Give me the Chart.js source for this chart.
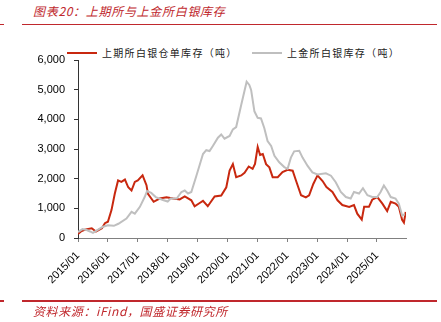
<!DOCTYPE html>
<html>
<head>
<meta charset="utf-8">
<script src="https://cdn.jsdelivr.net/npm/chart.js@4/dist/chart.umd.min.js"></script>
<style>
  body { margin:0; background:#fff; width:441px; height:322px; position:relative; overflow:hidden;
         font-family:"Noto Sans CJK SC", sans-serif; }
  .title { position:absolute; left:33px; top:2px; font-size:12px; font-style:italic; color:#C0282D; letter-spacing:0.7px; }
  .rule { position:absolute; height:1.5px; background:#C0282D; }
  .src { position:absolute; left:33px; top:302px; font-size:12px; font-style:italic; color:#C0282D; letter-spacing:0.6px; }
  .legend { position:absolute; top:45px; font-size:10px; letter-spacing:1.3px; color:#222; white-space:nowrap; }
  .legend i { display:inline-block; width:30px; height:2px; vertical-align:middle; margin-right:5px; margin-top:-2px; }
  #wrap { position:absolute; left:0; top:0; width:441px; height:322px; }
</style>
</head>
<body>
<div class="title">图表20：上期所与上金所白银库存</div>
<div class="rule" style="left:0;width:4px;top:23.5px"></div>
<div class="rule" style="left:22px;width:415px;top:23.5px"></div>
<div class="legend" style="left:67px"><i style="background:#C8280F"></i>上期所白银仓单库存（吨）</div>
<div class="legend" style="left:252px"><i style="background:#BFBFBF"></i>上金所白银库存（吨）</div>
<div id="wrap"><canvas id="c"></canvas></div>
<div class="rule" style="left:0;width:4px;top:300px"></div>
<div class="rule" style="left:22px;width:415px;top:300px"></div>
<div class="src">资料来源：iFind，国盛证券研究所</div>
<script>
// 上期所白银仓单库存（吨）
const shfeT = [2015.00,2015.10,2015.20,2015.30,2015.46,2015.60,2015.80,2015.90,2016.00,2016.12,2016.23,2016.34,2016.45,2016.57,2016.68,2016.79,2016.90,2017.00,2017.16,2017.29,2017.34,2017.53,2017.73,2017.96,2018.18,2018.40,2018.57,2018.79,2018.90,2019.07,2019.18,2019.34,2019.57,2019.79,2019.96,2020.07,2020.18,2020.29,2020.46,2020.57,2020.71,2020.84,2020.92,2021.01,2021.09,2021.18,2021.29,2021.40,2021.51,2021.68,2021.84,2022.01,2022.18,2022.29,2022.46,2022.62,2022.73,2022.87,2023.01,2023.18,2023.31,2023.51,2023.68,2023.84,2024.07,2024.23,2024.34,2024.49,2024.57,2024.73,2024.84,2025.01,2025.18,2025.34,2025.46,2025.62,2025.73,2025.84,2025.90,2025.96];
const shfeV = [140,220,270,300,330,220,330,500,550,940,1490,1940,1890,1970,1710,1600,1890,1940,2110,1780,1490,1220,1330,1370,1330,1300,1400,1270,1070,1180,1250,1070,1400,1430,1710,2270,2490,2050,2110,2200,2410,2330,2500,3070,2800,2830,2490,2380,2050,2050,2220,2300,2270,1940,1440,1370,1440,1820,2110,1920,1720,1550,1270,1110,1050,1110,820,620,1050,1050,1290,1380,1160,910,1220,1160,1050,610,520,880];

// 上金所白银库存（吨）
const sgeT = [2015.00,2015.15,2015.29,2015.40,2015.50,2015.70,2015.84,2016.00,2016.20,2016.35,2016.62,2016.79,2016.90,2017.07,2017.23,2017.31,2017.45,2017.60,2017.84,2018.00,2018.10,2018.30,2018.46,2018.57,2018.68,2018.79,2018.96,2019.18,2019.29,2019.40,2019.51,2019.68,2019.79,2019.90,2020.07,2020.18,2020.29,2020.46,2020.64,2020.73,2020.79,2020.90,2021.01,2021.12,2021.23,2021.34,2021.46,2021.57,2021.73,2021.90,2022.01,2022.12,2022.23,2022.40,2022.51,2022.68,2022.84,2023.01,2023.29,2023.46,2023.62,2023.79,2023.96,2024.12,2024.23,2024.40,2024.53,2024.68,2024.84,2025.01,2025.12,2025.23,2025.34,2025.46,2025.62,2025.73,2025.84,2025.93];
const sgeV = [200,300,270,220,170,300,380,430,410,480,655,880,820,1050,1380,1580,1520,1380,1280,1230,1330,1330,1550,1600,1500,1550,2100,2830,2960,2930,3100,3380,3490,3350,3440,3660,3740,4490,5270,5160,4990,4270,4050,4030,3710,3270,3100,2770,2550,2390,2330,2710,2920,2940,2710,2430,2210,2140,2180,2100,1880,1550,1380,1330,1550,1500,1680,1440,1380,1380,1550,1770,1600,1380,1330,1160,760,800];

const yearTicks = [2015,2016,2017,2018,2019,2020,2021,2022,2023,2024,2025];
const yTicks = [0,1000,2000,3000,4000,5000,6000];

const pts = (t, v) => t.map((x, i) => ({ x, y: v[i] }));

new Chart(document.getElementById('c'), {
  type: 'line',
  data: {
    datasets: [
      { label:'上金所白银库存（吨）', data: pts(sgeT, sgeV), borderColor:'#BFBFBF', borderWidth:2, pointRadius:0, tension:0 },
      { label:'上期所白银仓单库存（吨）', data: pts(shfeT, shfeV), borderColor:'#C8280F', borderWidth:2, pointRadius:0, tension:0 }
    ]
  },
  options: {
    responsive: true,
    maintainAspectRatio: false,
    animation: false,
    layout: { padding: { top:60, right:35, left:0, bottom:0 } },
    plugins: { legend:{ display:false }, tooltip:{ enabled:false } },
    scales: {
      x: {
        type: 'linear', min: 2015, max: 2025.97,
        afterFit: s => { s.height = 84; },
        afterBuildTicks: s => { s.ticks = yearTicks.map(v => ({ value: v })); },
        grid: { drawOnChartArea:false, drawTicks:true, tickLength:4, color:'#808080' },
        border: { color:'#808080', width:1 },
        ticks: { minRotation:45, maxRotation:45, padding:7, color:'#000',
                 font:{ family:'"Liberation Sans", Arial', size:11 },
                 callback: v => v + '/01' }
      },
      y: {
        min: 0, max: 6000,
        afterFit: s => { s.width = 78; },
        afterBuildTicks: s => { s.ticks = yTicks.map(v => ({ value: v })); },
        grid: { drawOnChartArea:false, drawTicks:true, tickLength:4, color:'#333' },
        border: { color:'#333', width:1 },
        ticks: { padding:9, color:'#000', font:{ family:'"Liberation Sans", Arial', size:11 },
                 callback: v => v.toLocaleString('en-US') }
      }
    }
  }
});
</script>
</body>
</html>
